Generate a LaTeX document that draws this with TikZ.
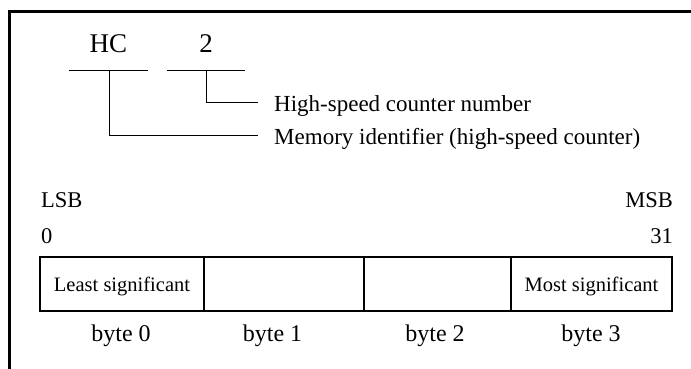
\documentclass[tikz,border=0pt]{standalone}
\usepackage{fontspec}
\setmainfont{Liberation Serif}
\begin{document}
\begin{tikzpicture}[x=1pt,y=-1pt,
  frame/.style={line width=3pt},
  conn/.style={line width=0.9pt},
  cellbox/.style={draw, line width=1.3pt, inner sep=0pt, minimum height=54pt},
  bigtxt/.style={inner sep=0pt, anchor=base, font=\fontsize{27}{27}\selectfont},
  labtxt/.style={inner sep=0pt, anchor=base west, font=\fontsize{23}{23}\selectfont},
  bittxt/.style={inner sep=0pt, font=\fontsize{22.5}{22.5}\selectfont},
  smalltxt/.style={inner sep=0pt, anchor=base, font=\fontsize{20.5}{20.5}\selectfont},
  bytetxt/.style={inner sep=0pt, anchor=base, font=\fontsize{24}{24}\selectfont}]
\useasboundingbox (0,0) rectangle (691,369);
% frame
\draw[frame] (9,369) -- (9,12) -- (691,12);
% identifier
\node[bigtxt] (hc) at (108.5,53) {HC};
\node[bigtxt] (two) at (206,53) {2};
\coordinate (u1a) at (69,70);
\coordinate (u1b) at (148,70);
\coordinate (u2a) at (167,70);
\coordinate (u2b) at (245,70);
\draw[conn] (u1a) -- (u1b);
\draw[conn] (u2a) -- (u2b);
\coordinate (t1) at (109,70);
\coordinate (t2) at (206,70);
\coordinate (e1) at (258,135);
\coordinate (e2) at (258,102);
\draw[conn] (t2) |- (e2);
\draw[conn] (t1) |- (e1);
\node[labtxt] (l2) at (274,111) {High-speed counter number};
\node[labtxt] (l1) at (274,144) {Memory identifier (high-speed counter)};
% bit positions
\node[bittxt, anchor=base west] (lsb) at (41,207) {LSB};
\node[bittxt, anchor=base west] (zero) at (41,243) {0};
\node[bittxt, anchor=base east] (msb) at (673,207) {MSB};
\node[bittxt, anchor=base east] (tone) at (673,243) {31};
% cells
\node[cellbox, minimum width=164pt] (c0) at (122,284) {};
\node[cellbox, minimum width=160pt] (c1) at (284,284) {};
\node[cellbox, minimum width=147pt] (c2) at (437.5,284) {};
\node[cellbox, minimum width=161pt] (c3) at (591.5,284) {};
\node[smalltxt] (s0) at (122,291.5) {Least significant};
\node[smalltxt] (s3) at (591.5,291.5) {Most significant};
% byte labels
\node[bytetxt] (b0) at (121,341.5) {byte 0};
\node[bytetxt] (b1) at (272.5,341.5) {byte 1};
\node[bytetxt] (b2) at (435,341.5) {byte 2};
\node[bytetxt] (b3) at (591,341.5) {byte 3};
\end{tikzpicture}
\end{document}
